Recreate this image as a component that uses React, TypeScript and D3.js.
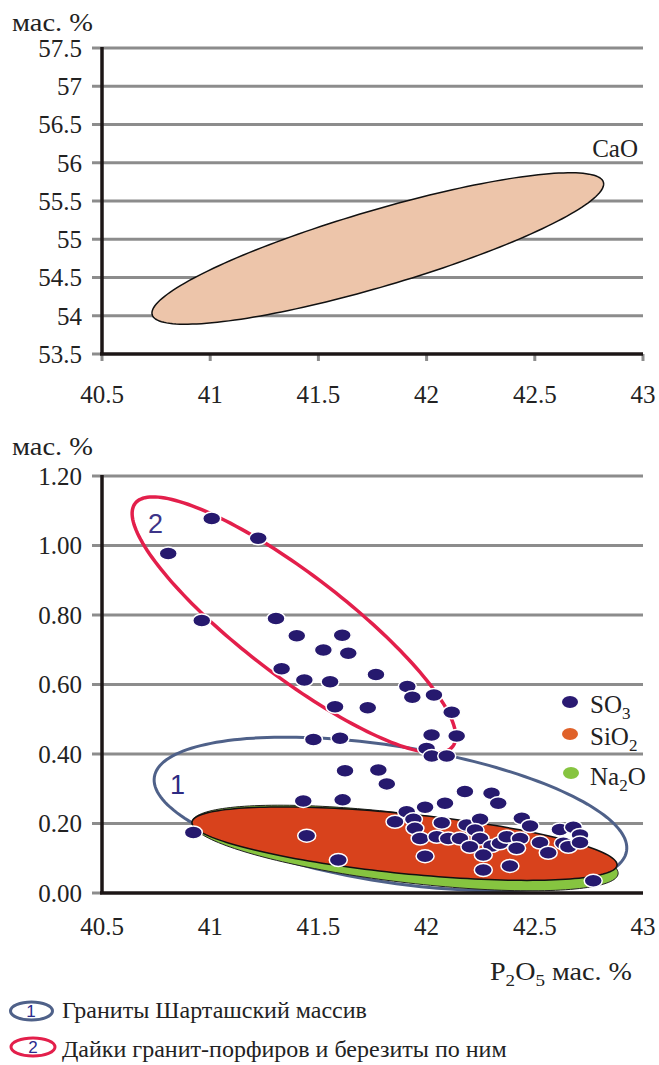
import React from 'react';
import * as d3 from 'd3';

// top chart: CaO vs P2O5
const caoYTicks = [53.5, 54, 54.5, 55, 55.5, 56, 56.5, 57, 57.5];
const xTicks = [40.5, 41, 41.5, 42, 42.5, 43];
// CaO field: ends of the long axis (P2O5, CaO) and width ratio
const caoTips = [[40.732, 54.012], [42.817, 55.746]];
const caoRatio = 0.162;

// bottom chart
const lowYTicks = [0, 0.2, 0.4, 0.6, 0.8, 1.0, 1.2];
const so3P2O5 = [
  41.007, 41.222, 40.806, 40.961, 41.304, 41.4, 41.61, 41.523, 41.638, 41.33,
  41.435, 41.554, 41.577, 41.766, 41.911, 41.934, 42.034, 42.116, 41.728, 42.023,
  42.139, 41.477, 41.6, 41.623, 41.777, 41.816, 41.43, 41.612, 40.922, 41.446,
  41.592, 41.854, 42.0, 42.024, 42.093, 42.177, 42.3, 42.331, 41.993, 42.085,
  41.908, 41.939, 41.946, 42.07, 42.185, 42.247, 42.224, 42.44, 42.478, 42.616,
  42.678, 42.709, 41.97, 42.047, 42.1, 42.154, 42.247, 42.3, 42.339, 42.37,
  42.432, 42.416, 42.2, 42.262, 42.524, 42.562, 42.632, 42.655, 42.709, 41.993,
  42.262, 42.385, 42.77
];
const so3Values = [
  1.078, 1.021, 0.977, 0.784, 0.79, 0.74, 0.742, 0.699, 0.69, 0.645,
  0.613, 0.608, 0.536, 0.629, 0.594, 0.563, 0.57, 0.52, 0.533, 0.455,
  0.452, 0.442, 0.445, 0.352, 0.354, 0.314, 0.265, 0.268, 0.174, 0.165,
  0.095, 0.205, 0.416, 0.394, 0.394, 0.292, 0.287, 0.258, 0.247, 0.258,
  0.234, 0.212, 0.186, 0.202, 0.196, 0.212, 0.181, 0.215, 0.193, 0.183,
  0.189, 0.167, 0.157, 0.162, 0.157, 0.157, 0.157, 0.135, 0.143, 0.162,
  0.157, 0.129, 0.133, 0.109, 0.145, 0.116, 0.143, 0.133, 0.145, 0.106,
  0.066, 0.078, 0.035
];
// fields: [tipA, tipB], width ratio
const field1Tips = [[40.742, 0.334], [42.924, 0.121]];
const field1Ratio = 0.285;
const field2Tips = [[40.653, 1.121], [42.121, 0.422]];
const field2Ratio = 0.255;
const sio2Tips = [[40.916, 0.204], [42.88, 0.08]];
const sio2Ratio = 0.14;
const na2oTips = [[40.916, 0.204], [42.885, 0.055]];
const na2oRatio = 0.16;

const SERIF = "'Liberation Serif', Tinos, 'Times New Roman', Times, serif";
const SANS = "'Liberation Sans', Arial, sans-serif";
const GRID = '#8c8c8c';
const AXIS = '#1c1616';

function ellipsePath(tips, ratio, x, y) {
  const x1 = x(tips[0][0]), y1 = y(tips[0][1]);
  const x2 = x(tips[1][0]), y2 = y(tips[1][1]);
  const cx = (x1 + x2) / 2, cy = (y1 + y2) / 2;
  const a = Math.hypot(x2 - x1, y2 - y1) / 2;
  const b = a * ratio;
  const th = Math.atan2(y2 - y1, x2 - x1);
  const pts = d3.range(0, Math.PI * 2, Math.PI / 90).map(t => [
    cx + a * Math.cos(t) * Math.cos(th) - b * Math.sin(t) * Math.sin(th),
    cy + a * Math.cos(t) * Math.sin(th) + b * Math.sin(t) * Math.cos(th)
  ]);
  return d3.line().curve(d3.curveLinearClosed)(pts);
}

const App = () => {
  const x = d3.scaleLinear().domain([40.5, 43]).range([102, 643]);
  const yTop = d3.scaleLinear().domain([53.5, 57.5]).range([354, 48]);
  const yLow = d3.scaleLinear().domain([0, 1.2]).range([893, 476]);
  const pts = so3P2O5.map((v, i) => ({ p: v, s: so3Values[i] }));
  const serif = { fontFamily: SERIF };
  const sans = { fontFamily: SANS };

  return (
    <svg width={659} height={1065} style={{ position: 'absolute', left: 0, top: 0, background: '#fff', fontFamily: SERIF }}>
      {/* ---------- top chart ---------- */}
      <text x={12} y={31} fontSize={25} fill="#222" style={serif} textLength={81} lengthAdjust="spacingAndGlyphs">мас. %</text>
      {caoYTicks.map(t => (
        <g key={'ty' + t}>
          {t !== 53.5 && <line x1={102} x2={643} y1={yTop(t)} y2={yTop(t)} stroke={GRID} strokeWidth={3} />}
          <line x1={92} x2={102} y1={yTop(t)} y2={yTop(t)} stroke={GRID} strokeWidth={3} />
          <text x={82} y={yTop(t)} dy="0.35em" textAnchor="end" fontSize={25} fill="#222" style={serif}>{t}</text>
        </g>
      ))}
      {xTicks.map(t => (
        <g key={'tx' + t}>
          <line x1={x(t)} x2={x(t)} y1={354} y2={361} stroke={GRID} strokeWidth={3} />
          <text x={x(t)} y={403} textAnchor="middle" fontSize={25} fill="#222" style={serif}>{t}</text>
        </g>
      ))}
      <path d={ellipsePath(caoTips, caoRatio, x, yTop)} fill="#edc5aa" stroke="#111" strokeWidth={1.5} />
      <line x1={102} x2={102} y1={47} y2={355} stroke={AXIS} strokeWidth={3.5} />
      <line x1={100} x2={643} y1={354} y2={354} stroke={AXIS} strokeWidth={3.5} />
      <text x={638} y={157} textAnchor="end" fontSize={25} fill="#222" style={serif}>CaO</text>

      {/* ---------- bottom chart ---------- */}
      <text x={12} y={455} fontSize={25} fill="#222" style={serif} textLength={81} lengthAdjust="spacingAndGlyphs">мас. %</text>
      {lowYTicks.map(t => (
        <g key={'ly' + t}>
          {t !== 0 && <line x1={102} x2={643} y1={yLow(t)} y2={yLow(t)} stroke={GRID} strokeWidth={3} />}
          <line x1={92} x2={102} y1={yLow(t)} y2={yLow(t)} stroke={GRID} strokeWidth={3} />
          <text x={82} y={yLow(t)} dy="0.35em" textAnchor="end" fontSize={25} fill="#222" style={serif}>{t.toFixed(2)}</text>
        </g>
      ))}
      {xTicks.map(t => (
        <text key={'lx' + t} x={x(t)} y={935} textAnchor="middle" fontSize={25} fill="#222" style={serif}>{t}</text>
      ))}
      <path d={ellipsePath(field1Tips, field1Ratio, x, yLow)} fill="none" stroke="#4f6189" strokeWidth={3} />
      <path d={ellipsePath(field2Tips, field2Ratio, x, yLow)} fill="none" stroke="#e31f4b" strokeWidth={3.5} />
      <path d={ellipsePath(na2oTips, na2oRatio, x, yLow)} fill="#86c440" stroke="#222" strokeWidth={1} />
      <path d={ellipsePath(sio2Tips, sio2Ratio, x, yLow)} fill="#d8421c" stroke="#111" strokeWidth={1.5} />
      <line x1={102} x2={102} y1={475} y2={894} stroke={AXIS} strokeWidth={3.5} />
      <line x1={100} x2={643} y1={893} y2={893} stroke={AXIS} strokeWidth={3.5} />
      {pts.map((d, i) => (
        <ellipse key={'p' + i} cx={x(d.p)} cy={yLow(d.s)} rx={9} ry={6.5}
          fill="#26196e" stroke="#fff" strokeWidth={1.5} />
      ))}
      <text x={170} y={794} fontSize={27} fill="#2e2a82" style={sans}>1</text>
      <text x={148} y={533} fontSize={27} fill="#3d3488" style={sans}>2</text>

      {/* legend inside */}
      <ellipse cx={570} cy={702} rx={8} ry={6} fill="#2a1a72" />
      <text x={590} y={713} fontSize={25} fill="#222" style={serif}>SO<tspan dy={6} fontSize={17}>3</tspan></text>
      <ellipse cx={570} cy={734} rx={8} ry={6} fill="#e0622a" />
      <text x={590} y={745} fontSize={25} fill="#222" style={serif}>SiO<tspan dy={6} fontSize={17}>2</tspan></text>
      <ellipse cx={571} cy={773} rx={8} ry={6} fill="#86c440" />
      <text x={590} y={785} fontSize={25} fill="#222" style={serif}>Na<tspan dy={6} fontSize={17}>2</tspan><tspan dy={-6}>O</tspan></text>

      {/* x axis title */}
      <text x={490} y={980} fontSize={25} fill="#222" style={serif} textLength={142} lengthAdjust="spacingAndGlyphs">P<tspan dy={6} fontSize={17}>2</tspan><tspan dy={-6}>O</tspan><tspan dy={6} fontSize={17}>5</tspan><tspan dy={-6}> мас. %</tspan></text>

      {/* legend of fields */}
      <ellipse cx={31.5} cy={1011} rx={21} ry={9} fill="#fff" stroke="#4f6189" strokeWidth={3} />
      <text x={31} y={1017} textAnchor="middle" fontSize={17} fill="#2b2a8c" style={sans}>1</text>
      <text x={62} y={1018} fontSize={24} fill="#222" style={serif}>Граниты Шарташский массив</text>
      <ellipse cx={33} cy={1047} rx={22} ry={9} fill="#fff" stroke="#e31f4b" strokeWidth={3} />
      <text x={33} y={1053} textAnchor="middle" fontSize={17} fill="#2b2a8c" style={sans}>2</text>
      <text x={62} y={1057} fontSize={24} fill="#222" style={serif}>Дайки гранит-порфиров и березиты по ним</text>
    </svg>
  );
};

export default App;
